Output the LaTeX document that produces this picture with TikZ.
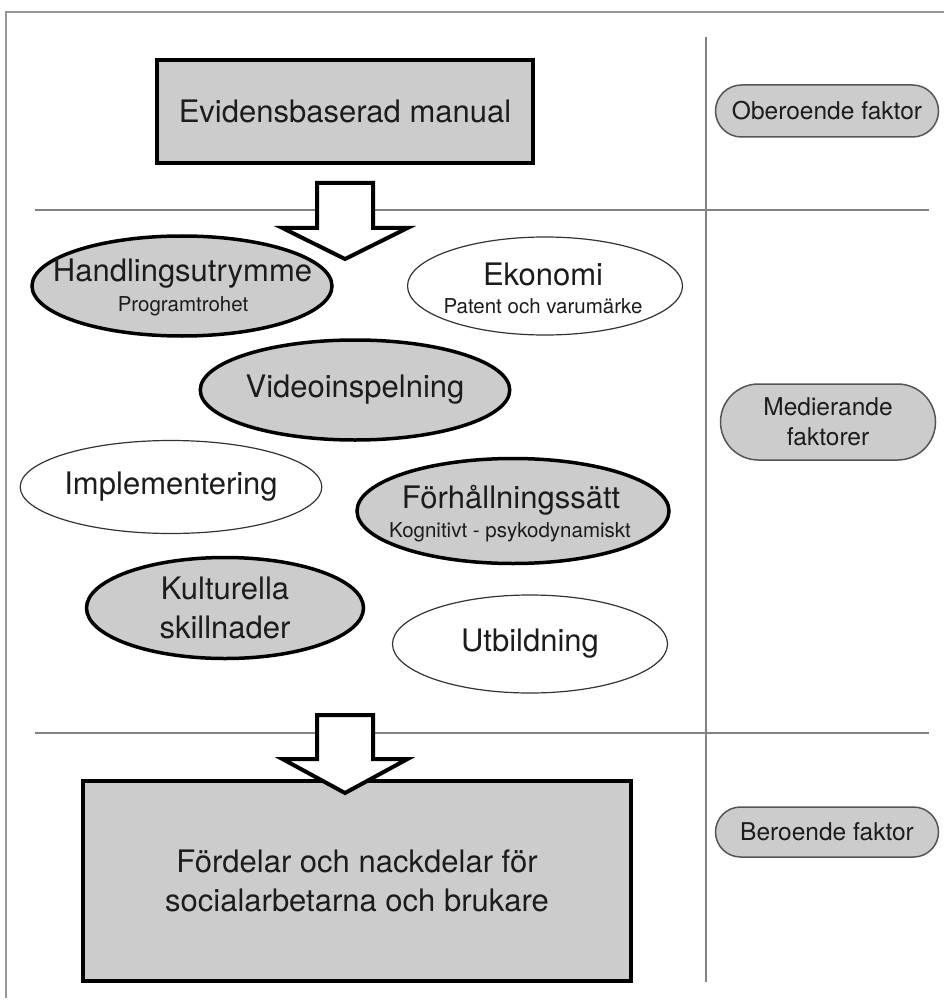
\documentclass[tikz,border=0pt]{standalone}
\usepackage{fontspec}
\setmainfont{TeX Gyre Heros}
\usetikzlibrary{shapes.geometric,shapes.misc}
\definecolor{boxgrey}{RGB}{204,204,204}
\definecolor{divgrey}{RGB}{130,130,130}
\definecolor{framegrey}{RGB}{150,150,150}
\definecolor{pillline}{RGB}{85,85,85}
\definecolor{txt}{RGB}{28,28,28}
\begin{document}
\begin{tikzpicture}[x=1pt,y=-1pt,
  mainfont/.style={font=\fontsize{31}{39}\selectfont},
  subfont/.style={font=\fontsize{20.5}{24}\selectfont},
  greybox/.style={rectangle, draw=black, line width=4pt, fill=boxgrey, text=txt,
    inner sep=0pt, align=center, mainfont},
  greyell/.style={ellipse, draw=black, line width=3.5pt, fill=boxgrey, text=txt,
    inner sep=0pt, align=center, mainfont},
  whiteell/.style={ellipse, draw=black!80, line width=1.2pt, fill=white, text=txt,
    inner sep=0pt, align=center, mainfont},
  pill/.style={rounded rectangle, draw=pillline, line width=1.5pt, fill=boxgrey, text=txt,
    inner sep=0pt, align=center, font=\fontsize{24.5}{30}\selectfont},
  label/.style={text=txt, inner sep=0pt, align=center},
  divider/.style={draw=divgrey, line width=2pt},
  bigarrow/.style={draw=black, line width=4pt, fill=white, line join=miter}
]
\useasboundingbox (0,0) rectangle (943,1000);
\fill[white] (0,0) rectangle (943,1000);

% outer frame
\draw[draw=framegrey, line width=2pt] (6,998) -- (6,12) -- (950,12);

% dividers
\draw[divider] (706,37) -- (706,982);
\draw[divider] (35,210) -- (929,210);
\draw[divider] (35,733) -- (929,733);

% boxes
\node[greybox, minimum width=376pt, minimum height=103pt] (manual) at (345,111.5) {Evidensbaserad manual};
\node[greybox, minimum width=548pt, minimum height=200pt] (result) at (357,881)
  {Fördelar och nackdelar för\\socialarbetarna och brukare};

% right-hand labels
\node[pill, minimum width=223pt, minimum height=52pt] (ober) at (827,111) {Oberoende faktor};
\node[pill, minimum width=215pt, minimum height=76pt] (medi) at (828,422) {Medierande\\faktorer};
\node[pill, minimum width=223pt, minimum height=50pt] (bero) at (827,832) {Beroende faktor};

% mediating factors
\node[greyell, minimum width=300pt, minimum height=100pt] (handl) at (182,286) {};
\node[label, mainfont] (handlt) at (182.5,274) {Handlingsutrymme};
\node[label, subfont] (handls) at (183,306) {Programtrohet};

\node[whiteell, minimum width=275pt, minimum height=98pt] (ekon) at (545,286) {};
\node[label, mainfont] (ekont) at (543,274) {Ekonomi};
\node[label, subfont] (ekons) at (543,306) {Patent och varumärke};

\node[greyell, minimum width=275pt, minimum height=100pt] (video) at (355,390) {Videoinspelning};

\node[whiteell, minimum width=273pt, minimum height=93pt] (impl) at (171,487) {Implementering};

\node[greyell, minimum width=312pt, minimum height=105pt] (forh) at (513,511) {};
\node[label, mainfont] (forht) at (511,500) {Förhållningssätt};
\node[label, subfont] (forhs) at (510,532) {Kognitivt - psykodynamiskt};

\node[greyell, minimum width=277pt, minimum height=101pt] (kult) at (225,608) {Kulturella\\skillnader};

\node[whiteell, minimum width=275pt, minimum height=98pt] (utb) at (530,644) {Utbildning};

% block arrows
\coordinate (a1top) at (345,183);
\draw[bigarrow] (a1top) ++(-28,0) -- ++(56,0) -- ++(0,45) -- ++(34.5,0)
  -- ++(-62.5,31) -- ++(-62.5,-31) -- ++(34.5,0) -- cycle;
\coordinate (a2top) at (345,715);
\draw[bigarrow] (a2top) ++(-28,0) -- ++(56,0) -- ++(0,44) -- ++(34.5,0)
  -- ++(-62.5,34) -- ++(-62.5,-34) -- ++(34.5,0) -- cycle;
\end{tikzpicture}
\end{document}
